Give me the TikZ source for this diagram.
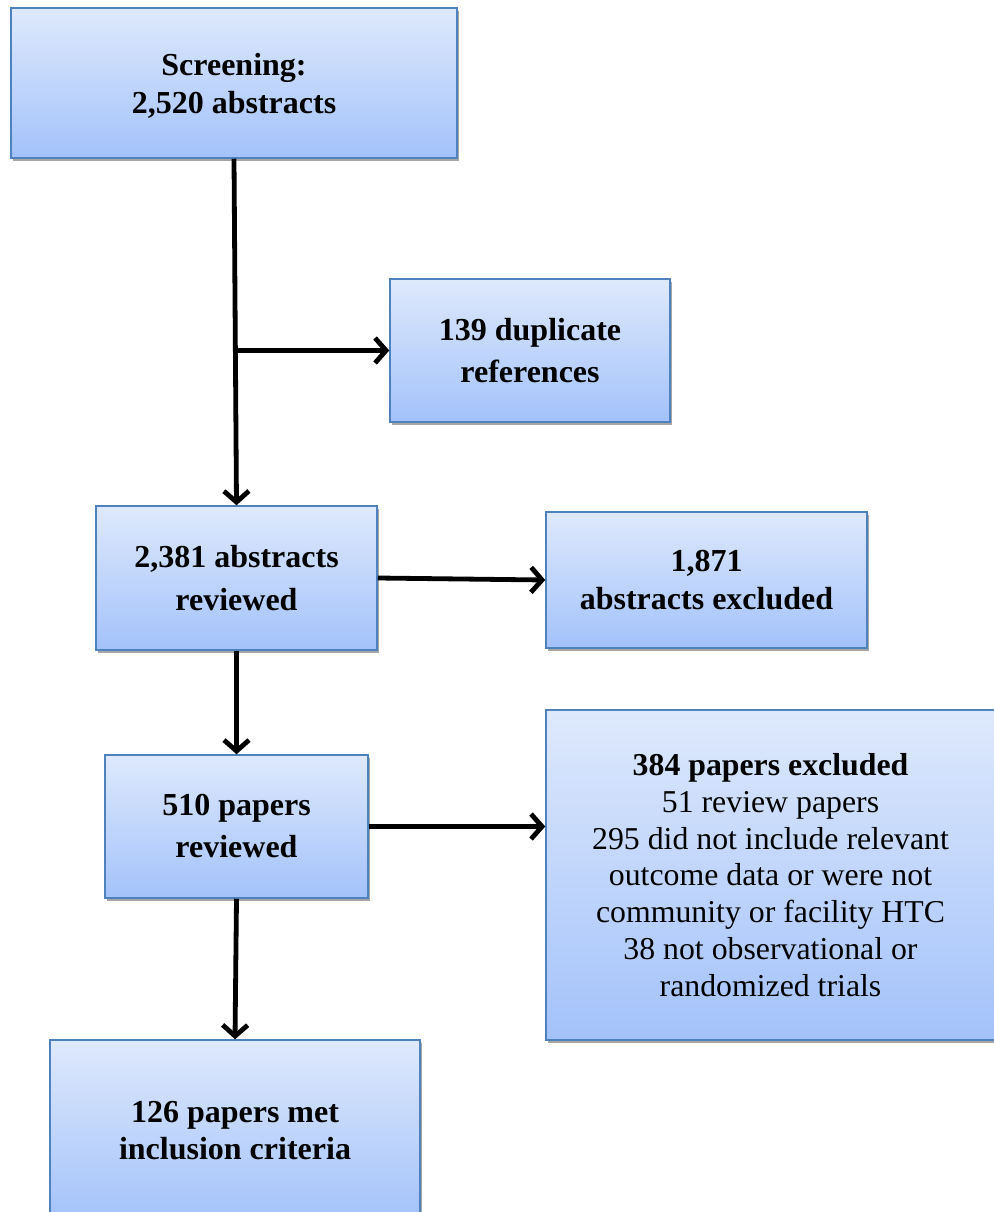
\documentclass[tikz,border=0pt]{standalone}
\usepackage{fontspec}
\setmainfont{Liberation Serif}
\usetikzlibrary{arrows.meta,shadows}
\definecolor{boxtop}{RGB}{222,233,252}
\definecolor{boxbot}{RGB}{163,194,250}
\definecolor{boxline}{RGB}{79,129,189}
\tikzset{
  flowbox/.style={draw=boxline, line width=1.5pt, top color=boxtop, bottom color=boxbot,
    drop shadow={shadow xshift=2pt, shadow yshift=-3pt, opacity=0.35, fill=black},
    align=center, inner sep=0pt, font=\fontsize{32}{38}\selectfont\bfseries},
  flowarrow/.style={line width=4.8pt, -{Straight Barb[length=11pt,width=25pt]}}
}
\begin{document}
\begin{tikzpicture}[x=1pt,y=-1pt]
\useasboundingbox (0,0) rectangle (993,1212);
\node[flowbox, minimum width=446pt, minimum height=150pt, text depth=0pt] (s) at (234,83) {Screening:\\2,520 abstracts};
\node[flowbox, minimum width=280pt, minimum height=143pt, font=\fontsize{32}{42}\selectfont\bfseries] (d) at (530,350.5) {139 duplicate\\references};
\node[flowbox, minimum width=281pt, minimum height=144pt, font=\fontsize{32}{43}\selectfont\bfseries] (r1) at (236.5,578) {2,381 abstracts\\reviewed};
\node[flowbox, minimum width=321pt, minimum height=136pt] (ex1) at (706.5,580) {1,871\\abstracts excluded};
\node[flowbox, minimum width=263pt, minimum height=143pt, font=\fontsize{32}{42}\selectfont\bfseries] (p) at (236.5,826.5) {510 papers\\reviewed};
\node[flowbox, minimum width=449pt, minimum height=330pt, font=\fontsize{31.8}{36.8}\selectfont] (ex2) at (770.5,875) {\textbf{384 papers excluded}\\51 review papers\\295 did not include relevant\\outcome data or were not\\community or facility HTC\\38 not observational or\\randomized trials};
\node[flowbox, minimum width=370pt, minimum height=182pt, font=\fontsize{32}{37}\selectfont\bfseries] (inc) at (235,1131) {126 papers met\\inclusion criteria};
\draw[flowarrow] (s.south) -- (r1.north);
\draw[flowarrow] (s.south |- d.west) -- (d.west);
\draw[flowarrow] (r1.east) -- (ex1.west);
\draw[flowarrow] (r1.south) -- (p.north);
\draw[flowarrow] (p.east) -- (p.east -| ex2.west);
\draw[flowarrow] (p.south) -- (inc.north);
\end{tikzpicture}
\end{document}
